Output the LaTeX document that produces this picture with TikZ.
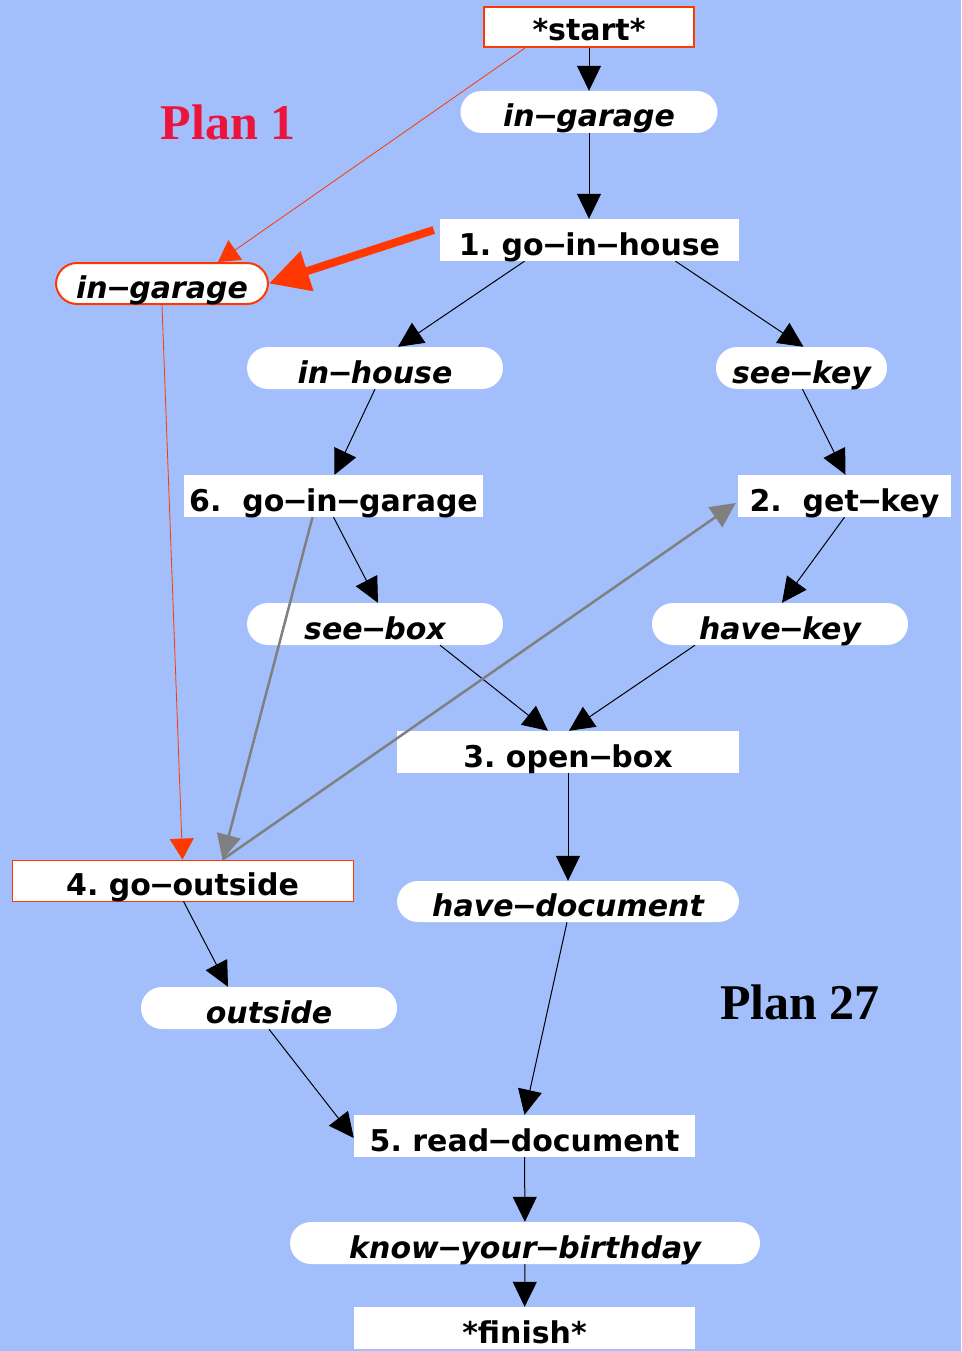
\documentclass[tikz,border=0pt]{standalone}
\usepackage{fontspec}
\setmainfont{DejaVu Sans}
\newfontfamily\planfont{Liberation Serif}
\usetikzlibrary{arrows.meta}
\definecolor{bgblue}{RGB}{162,191,252}
\definecolor{planred}{RGB}{235,20,60}
\definecolor{hotred}{RGB}{255,55,0}
\definecolor{edgegray}{RGB}{128,128,128}
% long dash between the words of a name, set a little tighter
\newcommand\wdash{\kern-0.06em−\kern-0.06em}
\begin{document}
\begin{tikzpicture}[x=1pt,y=-1pt,
  base/.style={fill=white,inner sep=0pt,minimum height=42pt,
    text height=30pt,text depth=0pt,
    font=\fontsize{30}{30}\selectfont\bfseries},
  stepbox/.style={base,rectangle},
  state/.style={base,rectangle,rounded corners=21pt,font=\fontsize{30}{30}\selectfont\bfseries\itshape},
  edge/.style={draw=black,line width=1pt,-{Triangle[length=25pt,width=24pt]}},
  grayedge/.style={draw=edgegray,line width=2.5pt,-{Triangle[length=25pt,width=24pt]}},
  rededge/.style={draw=hotred,line width=0.8pt,-{Triangle[length=21pt,width=24pt]}},
  bigred/.style={draw=hotred,line width=8pt,-{Triangle[length=40pt,width=40pt]}},
  planlabel/.style={font=\planfont\fontsize{50}{50}\selectfont\bfseries}
]
\fill[bgblue] (0,0) rectangle (961,1351);

% action steps and states of the plan
\node[stepbox,minimum width=210pt,minimum height=40pt,text height=28pt,draw=hotred,line width=2pt] (start) at (589,27) {*start*};
\node[state,minimum width=257pt] (ig) at (589,112) {in\wdash garage};
\node[stepbox,minimum width=299pt] (goh) at (589.5,240) {1.\ go\wdash in\wdash house};
\node[state,minimum width=212pt,minimum height=41pt,draw=hotred,line width=2pt] (igl) at (162,283.5) {in\wdash garage};
\node[state,minimum width=256pt] (inh) at (375,368) {in\wdash house};
\node[state,minimum width=171pt] (sk) at (801.5,368) {see\wdash key};
\node[stepbox,minimum width=299pt] (gig) at (333.5,496) {6.\ \ go\wdash in\wdash garage};
\node[stepbox,minimum width=213pt] (gk) at (844.5,496) {2.\ \ get\wdash key};
\node[state,minimum width=256pt] (sb) at (375,624) {see\wdash box};
\node[state,minimum width=256pt] (hk) at (780,624) {have\wdash key};
\node[stepbox,minimum width=342pt] (ob) at (568,752) {3.\ open\wdash box};
\node[stepbox,minimum width=341pt,minimum height=41pt,draw=hotred,line width=0.8pt] (go) at (182.5,880.5) {4.\ go\wdash outside};
\node[state,minimum width=342pt,minimum height=41pt] (hd) at (568,901.5) {have\wdash document};
\node[state,minimum width=256pt] (out) at (269,1008) {outside};
\node[stepbox,minimum width=341pt] (rd) at (524.5,1136) {5.\ read\wdash document};
\node[state,minimum width=470pt] (kb) at (525,1243) {know\wdash your\wdash birthday};
\node[stepbox,minimum width=341pt] (fin) at (524.5,1328) {*finish*};

% plan captions
\node[planlabel,text=planred] (p1) at (228,122) {Plan 1};
\node[planlabel,text=black] (p27) at (800,1002) {Plan 27};

% causal links of plan 27
\draw[edge] (start) -- (ig);
\draw[edge] (ig) -- ([xshift=-0.5pt]goh.north);
\draw[edge] ([xshift=-65pt]goh.south) -- ([xshift=23pt]inh.north);
\draw[edge] ([xshift=86pt]goh.south) -- ([xshift=2pt]sk.north);
\draw[edge] (inh.south) -- ([xshift=1pt]gig.north);
\draw[edge] ([xshift=1pt]sk.south) -- ([xshift=1pt]gk.north);
\draw[edge] (gig.south) -- ([xshift=3pt]sb.north);
\draw[edge] (gk.south) -- ([xshift=2pt]hk.north);
\draw[edge] ([xshift=65pt]sb.south) -- ([xshift=-20pt]ob.north);
\draw[edge] ([xshift=-85pt]hk.south) -- ([xshift=1pt]ob.north);
\draw[edge] (ob) -- (hd);
\draw[edge] ([xshift=-1pt]hd.south) -- (rd.north);
\draw[edge] ([xshift=1pt]go.south) -- ([xshift=-41pt]out.north);
\draw[edge] (out.south) -- ([yshift=-2pt]rd.west);
\draw[edge] (rd) -- (kb);
\draw[edge] (kb) -- (fin);

% ordering constraints
\draw[grayedge] ([xshift=-21pt]gig.south) -- ([xshift=40pt]go.north);
\draw[grayedge] ([xshift=40pt]go.north) -- ([xshift=-2pt,yshift=-7pt]gk.west);

% links of plan 1
\draw[rededge] ([xshift=-64pt]start.south) -- ([xshift=56pt]igl.north);
\draw[rededge] (igl.south) -- (go.north);
\draw[bigred] ([xshift=-6pt,yshift=10pt]goh.west) -- (igl.east);
\end{tikzpicture}
\end{document}
